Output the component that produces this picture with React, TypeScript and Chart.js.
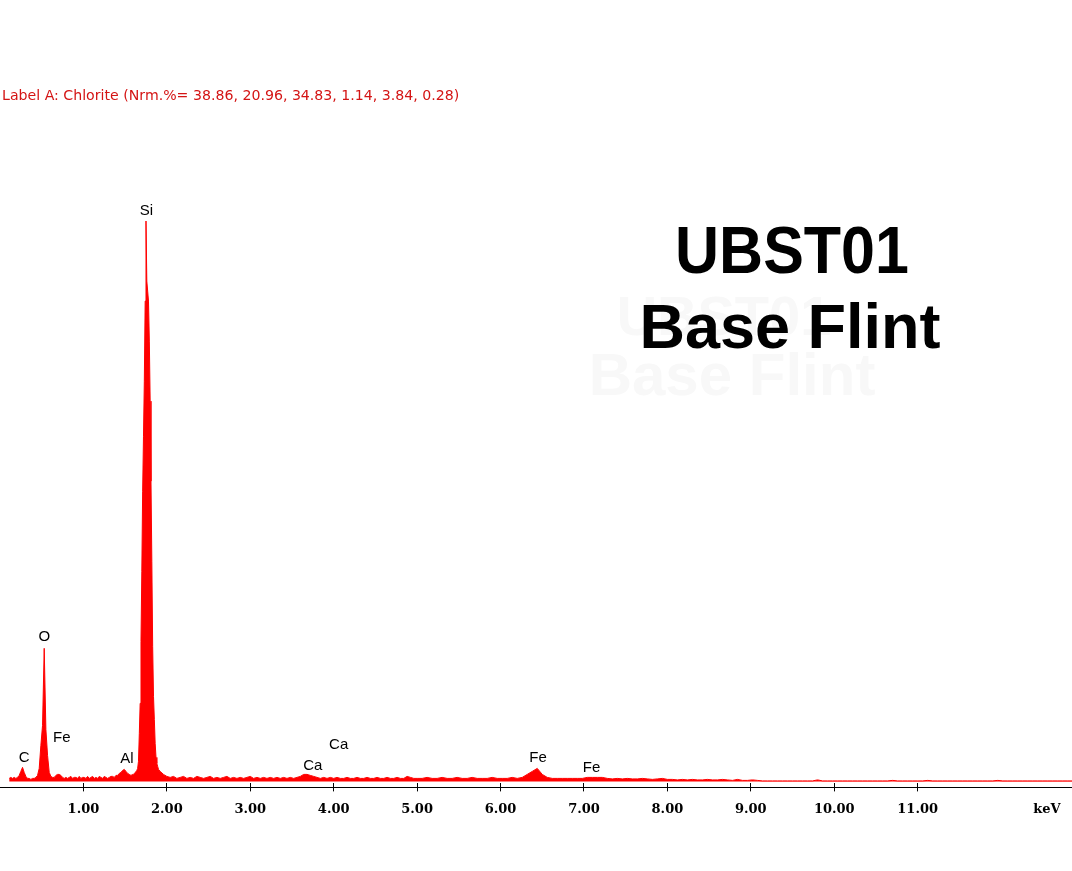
import React, { useEffect, useRef } from "react";
import { Chart, registerables } from "chart.js";

Chart.register(...registerables);

// ---------- data (relative counts) ----------
// Low-energy channels: 0.11 keV .. 1.59 keV, 0.02 keV per channel
const lowStartKeV = 0.11;
const lowStepKeV = 0.02;
const lowCounts = [
  3, 4, 3, 4, 3, 4, 6, 10, 14, 9,
  5, 3, 3, 2, 3, 3, 4, 6, 13, 36,
  56, 133, 52, 26, 9, 5, 4, 4, 6, 7,
  7, 6, 4, 3, 4, 3, 4, 5, 3, 4,
  4, 3, 5, 3, 4, 4, 3, 5, 3, 4,
  5, 3, 4, 3, 5, 4, 3, 5, 4, 3,
  4, 5, 5, 4, 6, 6, 8, 9, 11, 12,
  10, 8, 7, 6, 7,
];

// Si K-alpha region: 1.60 keV .. 1.90 keV, 0.01 keV per channel
const siStartKeV = 1.6;
const siStepKeV = 0.01;
const siCounts = [
  7, 8, 9, 10, 11, 13, 20, 48, 78, 140,
  210, 290, 345, 400, 480, 560, 500, 490, 480, 440,
  380, 300, 220, 135, 85, 62, 38, 24, 18, 15,
  12,
];

// Mid channels: 1.92 keV .. 5.00 keV, 0.04 keV per channel
const midStartKeV = 1.92;
const midStepKeV = 0.04;
const midCounts = [
  10, 7, 5, 4, 5, 3, 4, 5, 3, 4,
  3, 5, 4, 3, 4, 5, 3, 4, 3, 4,
  5, 3, 4, 3, 4, 3, 4, 5, 3, 4,
  3, 4, 3, 4, 3, 4, 3, 4, 3, 4,
  3, 4, 5, 7, 7, 6, 5, 4, 3, 4,
  3, 4, 3, 4, 3, 3, 4, 3, 3, 4,
  3, 3, 4, 3, 3, 4, 3, 3, 4, 3,
  3, 4, 3, 3, 5, 4, 3, 3,
];

// High channels: 5.06 keV .. 12.86 keV, 0.06 keV per channel
const highStartKeV = 5.06;
const highStepKeV = 0.06;
const highCounts = [
  3, 4, 3, 3, 4, 3, 3, 4, 3, 3,
  4, 3, 3, 3, 4, 3, 3, 3, 4, 3,
  4, 7, 10, 13, 7, 4, 3, 3, 3, 3,
  3, 3, 3, 4, 4, 4, 4, 3, 2.5, 3,
  2.5, 3, 2.5, 2.5, 3, 2.5, 2, 2.5, 3, 2,
  2, 1.5, 2, 1.5, 2, 1.5, 1.5, 2, 1.5, 1.5,
  2, 1.5, 1, 2, 1, 1, 1.5, 1, 0.5, 0.5,
  0.5, 0.5, 0.5, 0.5, 0.5, 0.5, 0.5, 0.5, 0.5, 1.5,
  0.5, 0.5, 0.5, 0.5, 0.5, 0.5, 0.5, 0.5, 0.5, 0.5,
  0.5, 0.5, 0.5, 0.5, 1, 0.5, 0.5, 0.5, 0.5, 0.5,
  0.5, 1, 0.5, 0.5, 0.5, 0.5, 0.5, 0.5, 0.5, 0.5,
  0.5, 0.5, 0.5, 0.5, 0.5, 1, 0.5, 0.5, 0.5, 0.5,
  0.5, 0.5, 0.5, 0.5, 0.5, 0.5, 0.5, 0.5, 0.5, 0.5,
  0.5,
];

// Peak labels: element, energy (keV), label height (counts)
const peakLabelNames = ["C", "O", "Fe", "Al", "Si", "Ca", "Ca", "Fe", "Fe"];
const peakLabelKeV = [0.29, 0.53, 0.74, 1.52, 1.755, 3.75, 4.06, 6.45, 7.09];
const peakLabelLevel = [24, 144, 44, 23, 570, 16, 37, 24, 13.5];

// X axis ticks
const tickValues = [1, 2, 3, 4, 5, 6, 7, 8, 9, 10, 11, 12.55];
const tickLabels = ["1.00", "2.00", "3.00", "4.00", "5.00", "6.00", "7.00", "8.00", "9.00", "10.00", "11.00", "keV"];

const headerText = "Label A: Chlorite (Nrm.%= 38.86, 20.96, 34.83, 1.14, 3.84, 0.28)";
const sampleLines = ["UBST01", "Base Flint"];

const X_MIN = 0;
const X_MAX = 12.85;

function segment(start: number, step: number, counts: number[]) {
  return counts.map((c, i) => ({ x: +(start + i * step).toFixed(3), y: c }));
}

const annotationPlugin = {
  id: "edsAnnotations",
  beforeDraw(chart: any) {
    const ctx = chart.ctx as CanvasRenderingContext2D;
    ctx.save();
    ctx.fillStyle = "#f8f8f8";
    ctx.textAlign = "center";
    ctx.textBaseline = "alphabetic";
    ctx.font = "bold 56px 'Liberation Sans', Arial, sans-serif";
    ctx.fillText(sampleLines[0], 724, 335);
    ctx.font = "bold 60px 'Liberation Sans', Arial, sans-serif";
    ctx.fillText(sampleLines[1], 732, 395);
    ctx.restore();
  },
  afterDraw(chart: any) {
    const ctx = chart.ctx as CanvasRenderingContext2D;
    const xs = chart.scales.x;
    const ys = chart.scales.y;
    const area = chart.chartArea;
    ctx.save();

    // axis line (ticks cross it)
    ctx.strokeStyle = "#000";
    ctx.lineWidth = 1;
    ctx.beginPath();
    const ay = Math.round(area.bottom + 4) + 0.5;
    ctx.moveTo(0, ay);
    ctx.lineTo(chart.width, ay);
    ctx.stroke();

    // header
    ctx.fillStyle = "#d41414";
    ctx.font = "14.15px 'DejaVu Sans', sans-serif";
    ctx.textAlign = "left";
    ctx.textBaseline = "middle";
    ctx.fillText(headerText, 2, 96.5);

    // peak labels
    ctx.fillStyle = "#000";
    ctx.font = "15px 'Liberation Sans', Arial, sans-serif";
    ctx.textAlign = "center";
    ctx.textBaseline = "middle";
    peakLabelNames.forEach((name, i) => {
      ctx.fillText(name, xs.getPixelForValue(peakLabelKeV[i]), ys.getPixelForValue(peakLabelLevel[i]));
    });

    // sample name
    ctx.textBaseline = "alphabetic";
    ctx.font = "bold 61px 'Liberation Sans', Arial, sans-serif";
    ctx.save();
    ctx.translate(792, 273);
    ctx.scale(1, 1.1);
    ctx.fillText(sampleLines[0], 0, 0);
    ctx.restore();
    ctx.font = "bold 63px 'Liberation Sans', Arial, sans-serif";
    ctx.fillText(sampleLines[1], 790, 348);

    ctx.restore();
  },
};

export default function App() {
  const canvasRef = useRef<HTMLCanvasElement | null>(null);

  useEffect(() => {
    document.body.style.margin = "0";
    const canvas = canvasRef.current;
    if (!canvas) return;

    const points = [
      ...segment(lowStartKeV, lowStepKeV, lowCounts),
      ...segment(siStartKeV, siStepKeV, siCounts),
      ...segment(midStartKeV, midStepKeV, midCounts),
      ...segment(highStartKeV, highStepKeV, highCounts),
    ];

    const chart = new Chart(canvas, {
      type: "line",
      data: {
        datasets: [
          {
            data: points,
            borderColor: "#ff0000",
            backgroundColor: "#ff0000",
            borderWidth: 1,
            pointRadius: 0,
            fill: "origin",
            tension: 0,
          },
        ],
      },
      options: {
        responsive: false,
        animation: false,
        parsing: false as any,
        layout: { padding: { top: 181, bottom: 44, left: 0, right: 0 } },
        plugins: {
          legend: { display: false },
          tooltip: { enabled: false },
          title: { display: false },
        },
        scales: {
          x: {
            type: "linear",
            min: X_MIN,
            max: X_MAX,
            afterBuildTicks: (scale: any) => {
              scale.ticks = tickValues.map((v) => ({ value: v }));
            },
            border: { display: false },
            grid: {
              drawOnChartArea: false,
              drawTicks: true,
              tickLength: 8,
              color: (ctx: any) => (ctx.tick && ctx.tick.value > 12 ? "rgba(0,0,0,0)" : "#000"),
              lineWidth: 1,
            },
            ticks: {
              autoSkip: false,
              maxRotation: 0,
              minRotation: 0,
              padding: 10,
              color: "#000",
              font: { family: "'DejaVu Serif', serif", size: 13, weight: "bold" },
              callback: (value: any) => {
                const i = tickValues.indexOf(Number(value));
                return i >= 0 ? tickLabels[i] : "";
              },
            },
          },
          y: {
            display: false,
            min: -2,
            max: 600,
          },
        },
      },
      plugins: [annotationPlugin],
    });

    return () => {
      chart.destroy();
    };
  }, []);

  return (
    <div style={{ width: 1072, height: 871, background: "#fff" }}>
      <canvas ref={canvasRef} width={1072} height={871} />
    </div>
  );
}
